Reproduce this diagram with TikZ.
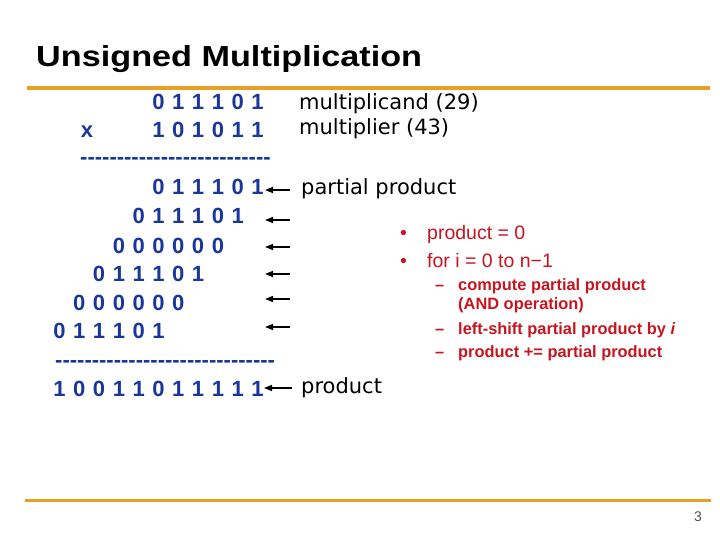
\documentclass[tikz,border=0pt]{standalone}
\usepackage{fontspec}
\setmainfont{Liberation Sans}
\newfontfamily\dejavu{DejaVu Sans}
\usetikzlibrary{arrows.meta}
\definecolor{gold}{RGB}{232,160,36}
\definecolor{digblue}{RGB}{25,55,155}
\definecolor{redtxt}{RGB}{200,20,30}
\definecolor{pggray}{RGB}{80,80,80}
\newcommand\digrow[4]{% #1 name, #2 leftmost centre x, #3 baseline y, #4 digits
  \foreach \d [count=\i] in {#4} {
    \node[dig] (#1-\i) at ({#2+(\i-1)*19.8},#3) {\d};
  }}
\newcommand\hyphens[1]{\foreach \k in {1,...,#1}{\mbox{-}}}
\begin{document}
\begin{tikzpicture}[x=1pt,y=-1pt,
  dig/.style={font=\fontsize{22}{26}\selectfont\bfseries, text=digblue, inner sep=0pt, anchor=base},
  dashrow/.style={font=\fontsize{22}{26}\selectfont\bfseries, text=digblue, inner sep=0pt, anchor=base west},
  lbl/.style={font=\dejavu\fontsize{21}{25}\selectfont, text=black, inner sep=0pt, anchor=base west},
  lvone/.style={font=\fontsize{19.5}{23}\selectfont, text=redtxt, inner sep=0pt, anchor=base west},
  lvtwo/.style={font=\fontsize{16.4}{20}\selectfont\bfseries, text=redtxt, inner sep=0pt, anchor=base west},
  arr/.style={draw=black, line width=1.4pt, -{Triangle[length=8pt,width=6pt]}},
  rule/.style={draw=gold},
]
\useasboundingbox (0,0) rectangle (720,540);

% title and rules
\node[font=\fontsize{29}{34}\selectfont\bfseries, inner sep=0pt, anchor=base west] (title) at (36,67) {\scalebox{1.18}[1]{Unsigned Multiplication}};
\draw[rule, line width=4pt] (27,88) -- (710,88);
\draw[rule, line width=3pt] (25,500) -- (711,500);
\node[font=\fontsize{14}{16}\selectfont, text=pggray, inner sep=0pt, anchor=base] (pg) at (698,521) {3};

% binary rows
\digrow{ra}{158.5}{110}{0,1,1,1,0,1}
\node[dig] (xsign) at (87,138) {x};
\digrow{rb}{158.5}{138}{1,0,1,0,1,1}
\node[dashrow] (dasha) at (80,165) {\hyphens{26}};
\digrow{pa}{158.5}{195}{0,1,1,1,0,1}
\digrow{pb}{138.7}{224}{0,1,1,1,0,1}
\digrow{pc}{118.9}{253}{0,0,0,0,0,0}
\digrow{pd}{99.1}{281}{0,1,1,1,0,1}
\digrow{pe}{79.3}{310}{0,0,0,0,0,0}
\digrow{pf}{59.5}{338}{0,1,1,1,0,1}
\node[dashrow] (dashb) at (55,367) {\hyphens{30}};
\digrow{pr}{59.5}{396}{1,0,0,1,1,0,1,1,1,1,1}

% labels
\node[lbl] (mcand) at (299,110) {multiplicand (29)};
\node[lbl] (mplier) at (299,135) {multiplier (43)};
\node[lbl] (pplbl) at (301,195) {partial product};
\node[lbl] (prodlbl) at (301,393) {product};

% arrows
\foreach \n/\y in {a/190,b/220,c/247,d/274,e/299,f/327} {
  \coordinate (t\n) at (290,\y);
  \coordinate (h\n) at (265,\y);
  \draw[arr] (t\n) -- (h\n);
}
\coordinate (tp) at (292,388);
\coordinate (hp) at (264,388);
\draw[arr] (tp) -- (hp);

% algorithm
\node[lvone] (b1) at (400,240) {•};
\node[lvone] (l1) at (427,240) {product = 0};
\node[lvone] (b2) at (400,267) {•};
\node[lvone] (l2) at (427,267) {for i = 0 to n−1};
\node[lvtwo] (d1) at (435,290) {–};
\node[lvtwo] (s1) at (458,290) {compute partial product};
\node[lvtwo] (s1b) at (458,309) {(AND operation)};
\node[lvtwo] (d2) at (435,334) {–};
\node[lvtwo] (s2) at (458,334) {left-shift partial product by \textit{i}};
\node[lvtwo] (d3) at (435,357) {–};
\node[lvtwo] (s3) at (458,357) {product += partial product};
\end{tikzpicture}
\end{document}
